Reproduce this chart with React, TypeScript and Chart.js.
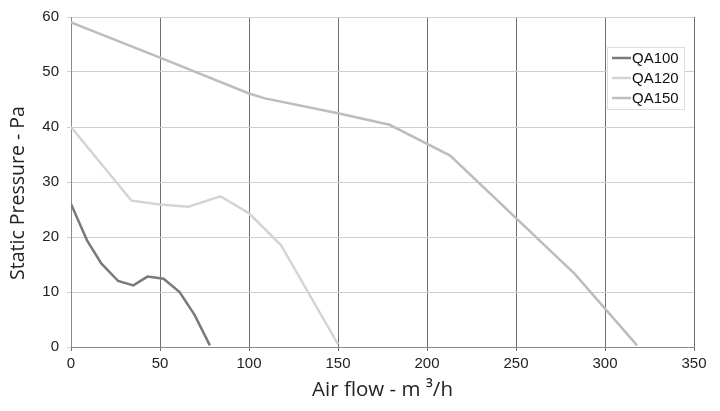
import { useEffect, useRef } from 'react'
import { Chart, registerables } from 'chart.js'

Chart.register(...registerables)

// air flow (m3/h) / static pressure (Pa)
const qa100Flow = [0, 9, 17, 26.5, 35, 43, 52, 61, 69.5, 78]
const qa100Pressure = [26, 19.4, 15.2, 12, 11.2, 12.8, 12.4, 10, 5.8, 0.3]

const qa120Flow = [0, 34, 50, 66, 84, 100, 118, 150]
const qa120Pressure = [40, 26.6, 25.9, 25.5, 27.4, 24.3, 18.5, 0.5]

const qa150Flow = [0, 50, 100, 109, 150, 179, 213, 283, 318]
const qa150Pressure = [59, 52.6, 46.1, 45.2, 42.5, 40.4, 34.8, 13.3, 0.3]

const seriesNames = ['QA100', 'QA120', 'QA150']
const seriesColors = ['#7a7a7a', '#d4d4d4', '#bdbdbd']

const xTicks = [0, 50, 100, 150, 200, 250, 300, 350]
const yTicks = [0, 10, 20, 30, 40, 50, 60]

const xTitle = 'Air flow - m ³/h'
const yTitle = 'Static Pressure - Pa'

const pts = (xs: number[], ys: number[]) => xs.map((x, i) => ({ x, y: ys[i] }))

// legend box drawn inside the plot, top right
const boxLegend = {
  id: 'boxLegend',
  afterDatasetsDraw(chart: Chart) {
    const { ctx, chartArea } = chart
    const w = 77
    const h = 62
    const x = chartArea.right - 10 - w
    const y = chartArea.top + 30
    ctx.save()
    ctx.fillStyle = '#fff'
    ctx.strokeStyle = '#dcdcdc'
    ctx.lineWidth = 1
    ctx.fillRect(x, y, w, h)
    ctx.strokeRect(x + 0.5, y + 0.5, w, h)
    ctx.font = '15px "Liberation Sans", Arial, sans-serif'
    ctx.textBaseline = 'middle'
    chart.data.datasets.forEach((ds, i) => {
      const cy = y + 11 + i * 20
      ctx.strokeStyle = ds.borderColor as string
      ctx.lineWidth = 2.5
      ctx.beginPath()
      ctx.moveTo(x + 5, cy)
      ctx.lineTo(x + 24, cy)
      ctx.stroke()
      ctx.fillStyle = '#111'
      ctx.fillText(ds.label ?? '', x + 25, cy + 1)
    })
    ctx.restore()
  },
}

// y title sits a bit below the plot's middle in the original
const sideTitle = {
  id: 'sideTitle',
  afterDraw(chart: Chart) {
    const { ctx } = chart
    ctx.save()
    ctx.translate(18, 193)
    ctx.rotate(-Math.PI / 2)
    ctx.font = '19.5px "Open Sans", sans-serif'
    ctx.fillStyle = '#222'
    ctx.textAlign = 'center'
    ctx.textBaseline = 'middle'
    ctx.fillText(yTitle, 0, 0)
    ctx.restore()
  },
}

export default function App() {
  const canvasRef = useRef<HTMLCanvasElement>(null)

  useEffect(() => {
    if (!canvasRef.current) return
    const tickFont = { family: '"Liberation Sans", Arial, sans-serif', size: 15 }
    const titleFont = { family: '"Open Sans", sans-serif', size: 20.5 }
    const data = [pts(qa100Flow, qa100Pressure), pts(qa120Flow, qa120Pressure), pts(qa150Flow, qa150Pressure)]

    const chart = new Chart(canvasRef.current, {
      type: 'line',
      data: {
        datasets: data.map((d, i) => ({
          label: seriesNames[i],
          data: d,
          borderColor: seriesColors[i],
          backgroundColor: seriesColors[i],
          borderWidth: 2.5,
          pointRadius: 0,
          tension: 0,
        })),
      },
      options: {
        animation: false,
        responsive: false,
        layout: { padding: { top: 15, right: 26, left: 0, bottom: 0 } },
        plugins: { legend: { display: false }, tooltip: { enabled: false } },
        scales: {
          x: {
            type: 'linear',
            min: 0,
            max: 350,
            afterFit: (s: any) => { s.height = 64 },
            afterBuildTicks: (s: any) => { s.ticks = xTicks.map(v => ({ value: v })) },
            grid: { color: '#707070', lineWidth: 1, tickLength: 4 },
            border: { color: '#8a8a8a' },
            ticks: { color: '#222', font: tickFont, padding: 4, maxRotation: 0 },
            title: { display: true, text: xTitle, color: '#222', font: titleFont, align: 'center', padding: { top: 0, bottom: 9 } },
          },
          y: {
            min: 0,
            max: 60,
            afterFit: (s: any) => { s.width = 71 },
            afterBuildTicks: (s: any) => { s.ticks = yTicks.map(v => ({ value: v })) },
            grid: { color: '#cfcfcf', lineWidth: 1, tickLength: 4 },
            border: { color: '#8a8a8a' },
            ticks: { color: '#222', font: tickFont, padding: 8 },
          },
        },
      },
      plugins: [boxLegend, sideTitle],
    })

    return () => { chart.destroy() }
  }, [])

  return (
    <div style={{ position: 'fixed', left: 0, top: 0, width: 720, height: 411, background: '#fff' }}>
      <canvas ref={canvasRef} width={720} height={411} />
    </div>
  )
}
